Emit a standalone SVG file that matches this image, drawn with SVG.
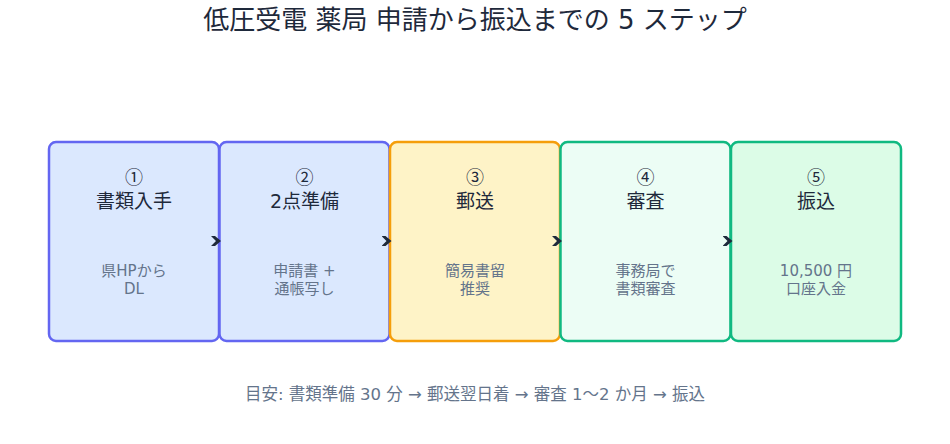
<svg xmlns="http://www.w3.org/2000/svg" width="950" height="444" viewBox="0 0 950 444">
<style>
text{font-family:"DejaVu Sans","Noto Sans CJK JP",sans-serif;text-anchor:middle}
.title{font-size:26px;fill:#1e293b}
.num{font-size:18px;fill:#1e293b;font-family:"Noto Sans CJK JP",sans-serif}
.head{font-size:19px;fill:#1e293b}
.sub{font-size:15px;fill:#64748b}
.foot{font-size:16.5px;fill:#64748b}
.box{stroke-width:2.5}
.blue{fill:#dbe8fe;stroke:#6366f1}
.amber{fill:#fef3c7;stroke:#f59e0b}
.mint{fill:#ecfdf5;stroke:#10b981}
.green{fill:#dcfce7;stroke:#10b981}
.conn{fill:none;stroke:none}
</style>
<defs>
<marker id="arr" viewBox="0 0 10 10" refX="10" refY="5" markerWidth="10" markerHeight="10" markerUnits="userSpaceOnUse" orient="auto">
<path d="M0,0 L4,0 L10,5 L4,10 L0,10 L5,5 z" fill="#1e293b"/>
</marker>
</defs>
<rect width="950" height="444" fill="#ffffff"/>
<text class="title" x="475" y="29">低圧受電 薬局 申請から振込までの 5 ステップ</text>
<g id="step1">
<rect class="box blue" x="49" y="142" width="170" height="199" rx="7"/>
<text class="num" x="134" y="184">①</text>
<text class="head" x="134" y="208">書類入手</text>
<text class="sub" x="134" y="276">県HPから</text>
<text class="sub" x="134" y="294">DL</text>
</g>
<g id="step2">
<rect class="box blue" x="219.5" y="142" width="170" height="199" rx="7"/>
<text class="num" x="304.5" y="184">②</text>
<text class="head" x="304.5" y="208">2点準備</text>
<text class="sub" x="304.5" y="276">申請書 +</text>
<text class="sub" x="304.5" y="294">通帳写し</text>
</g>
<g id="step3">
<rect class="box amber" x="390" y="142" width="170" height="199" rx="7"/>
<text class="num" x="475" y="184">③</text>
<text class="head" x="475" y="208">郵送</text>
<text class="sub" x="475" y="276">簡易書留</text>
<text class="sub" x="475" y="294">推奨</text>
</g>
<g id="step4">
<rect class="box mint" x="560.5" y="142" width="170" height="199" rx="7"/>
<text class="num" x="645.5" y="184">④</text>
<text class="head" x="645.5" y="208">審査</text>
<text class="sub" x="645.5" y="276">事務局で</text>
<text class="sub" x="645.5" y="294">書類審査</text>
</g>
<g id="step5">
<rect class="box green" x="731" y="142" width="170" height="199" rx="7"/>
<text class="num" x="816" y="184">⑤</text>
<text class="head" x="816" y="208">振込</text>
<text class="sub" x="816" y="276">10,500 円</text>
<text class="sub" x="816" y="294">口座入金</text>
</g>
<g id="connectors">
<path class="conn" d="M215,241 L221,241" marker-end="url(#arr)"/>
<path class="conn" d="M385.5,241 L391.5,241" marker-end="url(#arr)"/>
<path class="conn" d="M556,241 L562,241" marker-end="url(#arr)"/>
<path class="conn" d="M726.5,241 L732.5,241" marker-end="url(#arr)"/>
</g>
<text class="foot" x="475" y="400">目安: 書類準備 30 分 → 郵送翌日着 → 審査 1〜2 か月 → 振込</text>
</svg>
